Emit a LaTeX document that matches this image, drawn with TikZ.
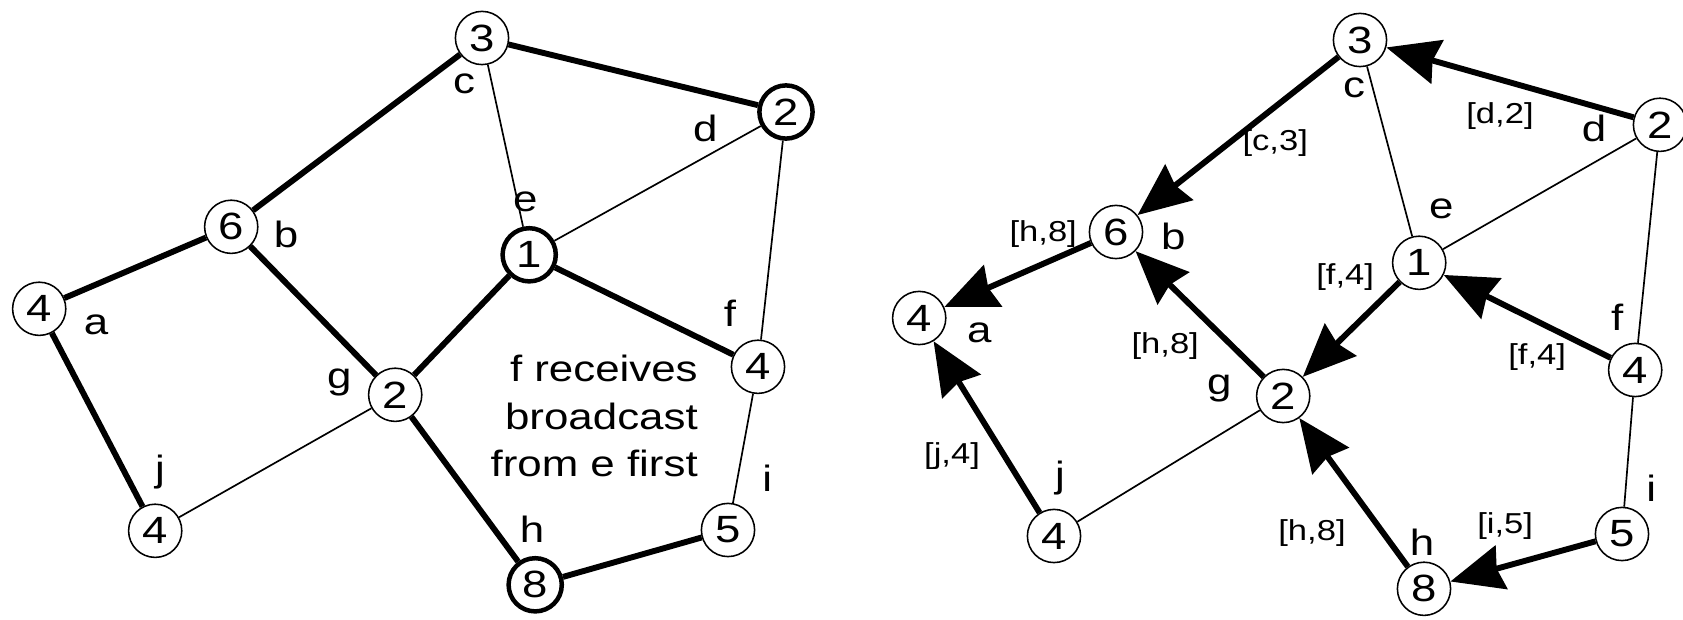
\documentclass[tikz,border=0pt]{standalone}
\usepackage{fontspec}
\setmainfont{Liberation Sans}[FakeStretch=1.2]
\usepackage{tikz}
\usetikzlibrary{arrows.meta, positioning}

\tikzset{
  vtx/.style={circle, draw, line width=1.1pt, fill=white, minimum size=1.33cm, inner sep=0pt,
    font=\fontsize{27}{32}\selectfont},
  vtxbold/.style={vtx, line width=3.2pt},
  tree/.style={line width=4.2pt},
  link/.style={line width=1.2pt},
  arr/.style={tree, -{Stealth[length=1.32cm, width=1.12cm, inset=0.12cm]}},
  lbl/.style={font=\fontsize{26}{31}\selectfont, inner sep=0pt},
  elbl/.style={font=\fontsize{20.5}{24}\selectfont, inner sep=0pt}
}

\begin{document}
\begin{tikzpicture}
    \useasboundingbox (0, 0) rectangle (42.075, 15.5);

    % left graph: broadcast tree
    \node[vtx]     (c1) at (12.05, 14.55) {3};
    \node[vtxbold] (d1) at (19.65, 12.70) {2};
    \node[vtx]     (b1) at (5.78, 9.83)   {6};
    \node[vtxbold] (e1) at (13.23, 9.13)  {1};
    \node[vtx]     (a1) at (0.98, 7.78)   {4};
    \node[vtx]     (f1) at (18.95, 6.33)  {4};
    \node[vtx]     (g1) at (9.88, 5.63)   {2};
    \node[vtx]     (j1) at (3.88, 2.23)   {4};
    \node[vtx]     (i1) at (18.20, 2.25)  {5};
    \node[vtxbold] (h1) at (13.38, 0.88)  {8};

    \draw[link] (c1) -- (e1);
    \draw[link] (e1) -- (d1);
    \draw[link] (d1) -- (f1);
    \draw[link] (f1) -- (i1);
    \draw[link] (g1) -- (j1);
    \draw[tree] (c1) -- (d1);
    \draw[tree] (c1) -- (b1);
    \draw[tree] (b1) -- (a1);
    \draw[tree] (b1) -- (g1);
    \draw[tree] (a1) -- (j1);
    \draw[tree] (g1) -- (e1);
    \draw[tree] (e1) -- (f1);
    \draw[tree] (g1) -- (h1);
    \draw[tree] (h1) -- (i1);

    \node[lbl] (lc1) at (11.60, 13.40) {c};
    \node[lbl] (ld1) at (17.63, 12.28) {d};
    \node[lbl] (le1) at (13.13, 10.45) {e};
    \node[lbl] (lb1) at (7.15, 9.65)   {b};
    \node[lbl] (la1) at (2.40, 7.38)   {a};
    \node[lbl] (lf1) at (18.25, 7.68)  {f};
    \node[lbl] (lg1) at (8.48, 5.93)   {g};
    \node[lbl] (lj1) at (4.00, 3.70)   {j};
    \node[lbl] (li1) at (19.18, 3.55)  {i};
    \node[lbl] (lh1) at (13.30, 2.28)  {h};

    \node[lbl, anchor=east, align=right, font=\fontsize{26}{34}\selectfont] (note) at (17.45, 5.10)
      {f receives\\broadcast\\from e first};

    % right graph: spanning tree with parent pointers
    \node[vtx] (c2) at (34.00, 14.50) {3};
    \node[vtx] (d2) at (41.50, 12.38) {2};
    \node[vtx] (b2) at (27.90, 9.70)  {6};
    \node[vtx] (e2) at (35.48, 8.93)  {1};
    \node[vtx] (a2) at (22.98, 7.55)  {4};
    \node[vtx] (f2) at (40.88, 6.25)  {4};
    \node[vtx] (g2) at (32.08, 5.60)  {2};
    \node[vtx] (j2) at (26.35, 2.10)  {4};
    \node[vtx] (i2) at (40.55, 2.15)  {5};
    \node[vtx] (h2) at (35.60, 0.78)  {8};

    \draw[link] (c2) -- (e2);
    \draw[link] (e2) -- (d2);
    \draw[link] (d2) -- (f2);
    \draw[link] (f2) -- (i2);
    \draw[link] (g2) -- (j2);
    \draw[arr] (d2) -- (c2);
    \draw[arr] (c2) -- (b2);
    \draw[arr] (b2) -- (a2);
    \draw[arr] (g2) -- (b2);
    \draw[arr] (e2) -- (g2);
    \draw[arr] (f2) -- (e2);
    \draw[arr] (h2) -- (g2);
    \draw[arr] (i2) -- (h2);
    \draw[arr] (j2) -- (a2);

    \node[lbl] (lc2) at (33.85, 13.30) {c};
    \node[lbl] (ld2) at (39.85, 12.28) {d};
    \node[lbl] (le2) at (36.03, 10.28) {e};
    \node[lbl] (lb2) at (29.33, 9.58)  {b};
    \node[lbl] (la2) at (24.48, 7.18)  {a};
    \node[lbl] (lf2) at (40.43, 7.58)  {f};
    \node[lbl] (lg2) at (30.48, 5.78)  {g};
    \node[lbl] (lj2) at (26.50, 3.55)  {j};
    \node[lbl] (li2) at (41.28, 3.30)  {i};
    \node[lbl] (lh2) at (35.55, 1.95)  {h};

    \node[elbl] (w1) at (37.50, 12.60) {[d,2]};
    \node[elbl] (w2) at (31.88, 11.93) {[c,3]};
    \node[elbl] (w3) at (26.08, 9.65)  {[h,8]};
    \node[elbl] (w4) at (33.63, 8.58)  {[f,4]};
    \node[elbl] (w5) at (29.13, 6.85)  {[h,8]};
    \node[elbl] (w6) at (38.43, 6.58)  {[f,4]};
    \node[elbl] (w7) at (23.80, 4.10)  {[j,4]};
    \node[elbl] (w8) at (32.80, 2.18)  {[h,8]};
    \node[elbl] (w9) at (37.63, 2.35)  {[i,5]};
\end{tikzpicture}
\end{document}
